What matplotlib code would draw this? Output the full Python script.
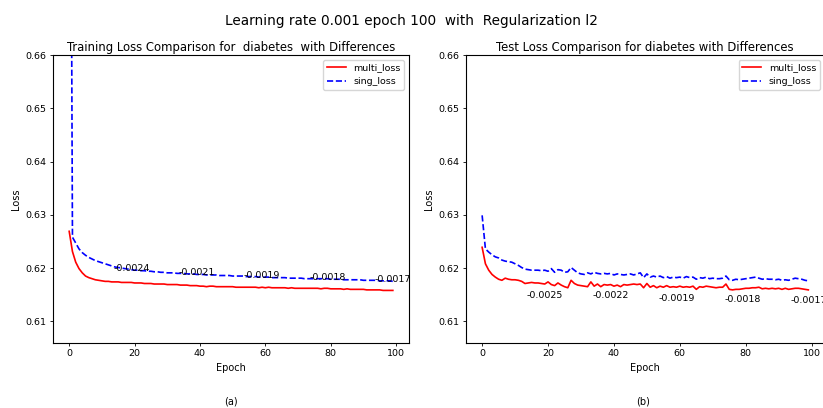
import matplotlib
matplotlib.use("Agg")
import matplotlib.pyplot as plt

# training losses per epoch
train_multi = [
    0.6269, 0.6231, 0.6211, 0.6199, 0.6191, 0.6185, 0.6182, 0.6180, 0.6178, 0.6177,
    0.6176, 0.6175, 0.6175, 0.6174, 0.6174, 0.6174, 0.6173, 0.6173, 0.6173, 0.6173,
    0.6172, 0.6172, 0.6172, 0.6171, 0.6171, 0.6171, 0.6170, 0.6170, 0.6170, 0.6170,
    0.6169, 0.6169, 0.6169, 0.6169, 0.6168, 0.6168, 0.6168, 0.6167, 0.6167, 0.6167,
    0.6166, 0.6166, 0.6165, 0.6166, 0.6166, 0.6165, 0.6165, 0.6165, 0.6165, 0.6165,
    0.6165, 0.6164, 0.6164, 0.6164, 0.6164, 0.6164, 0.6164, 0.6164, 0.6163, 0.6164,
    0.6163, 0.6164, 0.6163, 0.6163, 0.6163, 0.6163, 0.6163, 0.6162, 0.6163, 0.6162,
    0.6162, 0.6162, 0.6162, 0.6162, 0.6162, 0.6162, 0.6162, 0.6161, 0.6162, 0.6162,
    0.6161, 0.6161, 0.6161, 0.6161, 0.6160, 0.6161, 0.6160, 0.6160, 0.6160, 0.6160,
    0.6160, 0.6159, 0.6159, 0.6159, 0.6159, 0.6159, 0.6158, 0.6158, 0.6158, 0.6158,
]
train_sing = [
    0.7800, 0.6258, 0.6247, 0.6236, 0.6229, 0.6224, 0.6220, 0.6217, 0.6214, 0.6212,
    0.6210, 0.6208, 0.6206, 0.6204, 0.6202, 0.6201, 0.6200, 0.6199, 0.6198, 0.6197,
    0.6196, 0.6196, 0.6195, 0.6195, 0.6194, 0.6194, 0.6193, 0.6193, 0.6192, 0.6192,
    0.6191, 0.6191, 0.6191, 0.6190, 0.6190, 0.6190, 0.6189, 0.6189, 0.6189, 0.6188,
    0.6188, 0.6188, 0.6187, 0.6187, 0.6187, 0.6187, 0.6186, 0.6186, 0.6186, 0.6186,
    0.6185, 0.6185, 0.6185, 0.6185, 0.6184, 0.6184, 0.6184, 0.6184, 0.6183, 0.6183,
    0.6183, 0.6183, 0.6182, 0.6182, 0.6182, 0.6182, 0.6182, 0.6181, 0.6181, 0.6181,
    0.6181, 0.6181, 0.6180, 0.6180, 0.6180, 0.6180, 0.6180, 0.6180, 0.6180, 0.6180,
    0.6179, 0.6179, 0.6179, 0.6179, 0.6178, 0.6178, 0.6178, 0.6178, 0.6178, 0.6178,
    0.6177, 0.6177, 0.6177, 0.6177, 0.6177, 0.6176, 0.6176, 0.6176, 0.6176, 0.6175,
]

# test losses per epoch
test_multi = [
    0.6239, 0.6208, 0.6196, 0.6188, 0.6183, 0.6179, 0.6177, 0.6181, 0.6179, 0.6178,
    0.6178, 0.6177, 0.6175, 0.6171, 0.6172, 0.6173, 0.6172, 0.6172, 0.6171, 0.6170,
    0.6174, 0.6169, 0.6167, 0.6172, 0.6168, 0.6165, 0.6163, 0.6177, 0.6171, 0.6168,
    0.6167, 0.6166, 0.6165, 0.6174, 0.6166, 0.6170, 0.6165, 0.6169, 0.6168, 0.6169,
    0.6166, 0.6168, 0.6165, 0.6169, 0.6168, 0.6169, 0.6170, 0.6169, 0.6170, 0.6163,
    0.6171, 0.6164, 0.6167, 0.6163, 0.6166, 0.6164, 0.6167, 0.6164, 0.6165, 0.6164,
    0.6166, 0.6164, 0.6165, 0.6164, 0.6166, 0.6160, 0.6165, 0.6164, 0.6166, 0.6165,
    0.6164, 0.6163, 0.6164, 0.6164, 0.6170, 0.6160, 0.6159, 0.6160, 0.6160, 0.6161,
    0.6162, 0.6162, 0.6163, 0.6163, 0.6164, 0.6161, 0.6162, 0.6161, 0.6162, 0.6161,
    0.6162, 0.6160, 0.6162, 0.6160, 0.6161, 0.6162, 0.6162, 0.6161, 0.6160, 0.6159,
]
test_sing = [
    0.6299, 0.6236, 0.6230, 0.6225, 0.6221, 0.6219, 0.6215, 0.6213, 0.6212, 0.6211,
    0.6208, 0.6205, 0.6201, 0.6198, 0.6197, 0.6196, 0.6196, 0.6196, 0.6195, 0.6196,
    0.6194, 0.6199, 0.6192, 0.6197, 0.6196, 0.6192, 0.6193, 0.6201, 0.6196, 0.6191,
    0.6189, 0.6188, 0.6191, 0.6189, 0.6192, 0.6190, 0.6189, 0.6190, 0.6189, 0.6190,
    0.6187, 0.6189, 0.6188, 0.6187, 0.6188, 0.6189, 0.6187, 0.6189, 0.6191, 0.6182,
    0.6189, 0.6183, 0.6185, 0.6183, 0.6185, 0.6182, 0.6184, 0.6181, 0.6183, 0.6182,
    0.6183, 0.6181, 0.6184, 0.6182, 0.6183, 0.6179, 0.6182, 0.6181, 0.6183, 0.6180,
    0.6181, 0.6180, 0.6180, 0.6181, 0.6185, 0.6178, 0.6177, 0.6179, 0.6178, 0.6179,
    0.6180, 0.6181, 0.6182, 0.6183, 0.6181, 0.6179, 0.6180, 0.6179, 0.6179, 0.6178,
    0.6179, 0.6177, 0.6178, 0.6177, 0.6179, 0.6181, 0.6180, 0.6179, 0.6177, 0.6176,
]

# difference labels shown every 20 epochs
diff_epochs = [19, 39, 59, 79, 99]
train_diffs = [-0.0024, -0.0021, -0.0019, -0.0018, -0.0017]
test_diffs = [-0.0025, -0.0022, -0.0019, -0.0018, -0.0017]

epochs = list(range(len(train_multi)))
fs = 6.8

fig = plt.figure(figsize=(8.23, 4.08), dpi=100)
fig.suptitle("Learning rate 0.001 epoch 100  with  Regularization l2", fontsize=9.8, y=0.965)

ax1 = fig.add_axes([0.0644, 0.159, 0.4326, 0.706])
ax2 = fig.add_axes([0.566, 0.159, 0.436, 0.706])

for ax, multi, sing, title in [
    (ax1, train_multi, train_sing, "Training Loss Comparison for  diabetes  with Differences"),
    (ax2, test_multi, test_sing, "Test Loss Comparison for diabetes with Differences"),
]:
    ax.plot(epochs, multi, color="red", lw=1.2, label="multi_loss")
    ax.plot(epochs, sing, color="blue", ls="--", lw=1.2, label="sing_loss")
    ax.set_ylim(0.6059, 0.66)
    ax.set_yticks([0.61, 0.62, 0.63, 0.64, 0.65, 0.66])
    ax.set_title(title, fontsize=8.4, pad=3)
    ax.set_xlabel("Epoch", fontsize=7, labelpad=3)
    ax.set_ylabel("Loss", fontsize=7, labelpad=3)
    ax.tick_params(labelsize=fs, length=2.5, width=0.6, pad=2)
    for s in ax.spines.values():
        s.set_linewidth(0.8)
    ax.legend(loc="upper right", fontsize=fs)

for ep, d in zip(diff_epochs, train_diffs):
    ax1.text(ep, train_sing[ep] + 0.0003, f"{d:.4f}", fontsize=6.8, ha="center", va="center")

for ep, d in zip(diff_epochs, test_diffs):
    ax2.annotate(f"{d:.4f}", (ep, test_multi[ep]), xytext=(0, -8), textcoords="offset points",
                 fontsize=6.8, ha="center", va="center", annotation_clip=False)

fig.text(0.281, 0.016, "(a)", fontsize=7, ha="center", va="center")
fig.text(0.781, 0.016, "(b)", fontsize=7, ha="center", va="center")

fig.savefig("out.png", dpi=100)
